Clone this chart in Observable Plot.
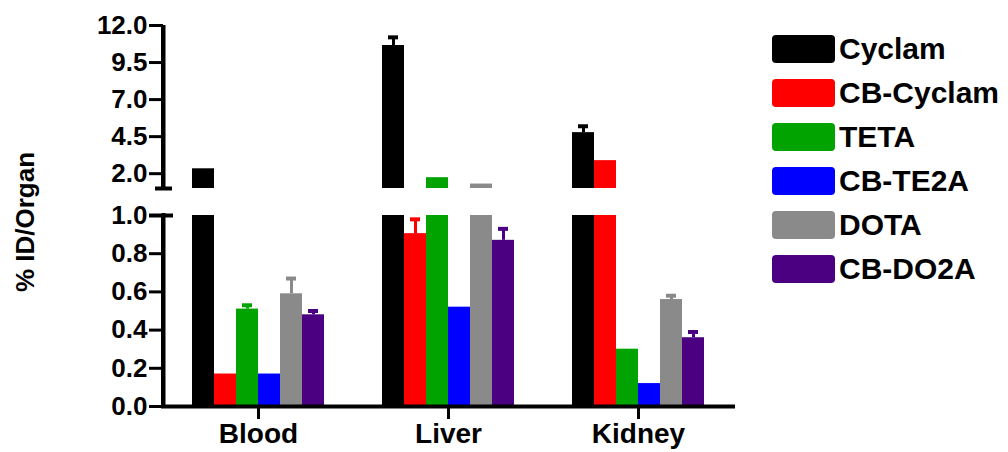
<!DOCTYPE html>
<html>
<head>
<meta charset="utf-8">
<script src="https://cdn.jsdelivr.net/npm/d3@7"></script>
<script src="https://cdn.jsdelivr.net/npm/@observablehq/plot@0.6"></script>
<style>
  html, body { margin: 0; padding: 0; background: #fff; }
  #wrap { position: relative; width: 1008px; height: 452px; overflow: hidden; background: #fff;
          font-family: "Liberation Sans", Arial, sans-serif; font-weight: bold; color: #000; }
  .layer { position: absolute; left: 0; }
  .top { top: 0; }
  .bot { top: 190px; }
  #ylabel { position: absolute; left: 25px; top: 222px; transform: translate(-50%, -50%) rotate(-90deg);
            font-size: 26px; white-space: nowrap; }
  #legend { position: absolute; left: 772px; top: 27px; }
  .row { display: flex; align-items: center; height: 44px; }
  .sw { width: 63px; height: 28px; border-radius: 4px; margin-right: 4px; }
  .lab { font-size: 30px; line-height: 30px; }
</style>
</head>
<body>
<div id="wrap">
  <div id="upperBars" class="layer top"></div>
  <div id="lowerBars" class="layer bot"></div>
  <div id="upperAxis" class="layer top"></div>
  <div id="lowerAxis" class="layer bot"></div>
  <div id="ylabel">% ID/Organ</div>
  <div id="legend"></div>
</div>
<script>
// ---- data ----
const organs = ["Blood", "Liver", "Kidney"];
const compounds = ["Cyclam", "CB-Cyclam", "TETA", "CB-TE2A", "DOTA", "CB-DO2A"];
const colors = ["#000000", "#ff0000", "#00a300", "#0000ff", "#8a8a8a", "#4b0082"];
const valuesBlood  = [2.33, 0.17, 0.51, 0.17, 0.59, 0.48];
const valuesLiver  = [10.65, 0.905, 1.73, 0.52, 1.3, 0.87];
const valuesKidney = [4.77, 2.88, 0.30, 0.12, 0.56, 0.36];
const errBlood  = [0, 0, 0.02, 0, 0.08, 0.02];
const errLiver  = [0.55, 0.075, 0, 0, 0, 0.06];
const errKidney = [0.43, 0, 0, 0, 0.02, 0.03];
const upperTicks = [2.0, 4.5, 7.0, 9.5, 12.0];
const lowerTicks = [0.0, 0.2, 0.4, 0.6, 0.8, 1.0];
const breakValue = 1.0;
const upperMax = 12.0;

// ---- build table ----
const valueSets = [valuesBlood, valuesLiver, valuesKidney];
const errSets = [errBlood, errLiver, errKidney];
const data = [];
organs.forEach((organ, i) => compounds.forEach((compound, j) => {
  data.push({organ, compound, value: valueSets[i][j], err: errSets[i][j]});
}));
const errData = data.filter(d => d.err > 0);
const upperErr = errData.filter(d => d.value > breakValue);
const lowerErr = errData.filter(d => d.value + d.err < breakValue);
const upperData = data.filter(d => d.value > breakValue);

const font = {fontFamily: "'Liberation Sans', Arial, sans-serif", fontWeight: "bold", fontSize: "26px", color: "#000", background: "transparent", overflow: "visible"};
const frameOpts = {width: 740, marginLeft: 163, marginRight: 7, style: font};
const upperFrame = {...frameOpts, height: 195, marginTop: 25, marginBottom: 7};
const lowerFrame = {...frameOpts, height: 262, marginTop: 25, marginBottom: 46};

const common = {
  fx: {domain: organs, padding: 0, label: null, axis: null},
  x: {domain: compounds, paddingInner: 0, paddingOuter: 1.22, axis: null},
  color: {domain: compounds, range: colors}
};

const errMarks = (rows) => [
  Plot.ruleX(rows, {fx: "organ", x: "compound", y1: "value", y2: d => d.value + d.err, stroke: "compound", strokeWidth: 3}),
  Plot.tickY(rows, {fx: "organ", x: "compound", y: d => d.value + d.err, stroke: "compound", strokeWidth: 4, inset: 6})
];

// vertical axis line drawn as a filled thin rectangle at x = 0 of the overlay scale
const axisBar = (y1, y2) => Plot.rect([0], {x1: 0, x2: 0, y1, y2, insetLeft: -2, insetRight: -2, fill: "#000"});

// bars (faceted by organ)
const upperBars = Plot.plot({
  ...upperFrame, ...common,
  y: {domain: [breakValue, upperMax], axis: null},
  marks: [
    Plot.barY(upperData, {fx: "organ", x: "compound", y1: breakValue, y2: "value", fill: "compound", clip: true}),
    ...errMarks(upperErr)
  ]
});

const lowerBars = Plot.plot({
  ...lowerFrame, ...common,
  y: {domain: [0, breakValue], axis: null},
  marks: [
    Plot.barY(data, {fx: "organ", x: "compound", y1: 0, y2: "value", fill: "compound", clip: true}),
    ...errMarks(lowerErr),
    Plot.axisFx({anchor: "bottom", tickSize: 13, tickPadding: 4, strokeWidth: 3, fontSize: 28, label: null})
  ]
});

// axis overlays (continuous y, with the axis lines)
const upperAxis = Plot.plot({
  ...upperFrame,
  x: {domain: [0, 1], axis: null},
  y: {domain: [breakValue, upperMax], label: null},
  marks: [
    axisBar(breakValue, upperMax),
    Plot.axisY({ticks: upperTicks, tickFormat: d3.format(".1f"), tickSize: 14, tickPadding: 2, strokeWidth: 3, label: null, fontSize: 26}),
    Plot.axisY({ticks: [breakValue], tickFormat: () => "", tickSize: 17, dx: 9, strokeWidth: 4, label: null}),
    Plot.ruleX([0], {stroke: "#000", strokeWidth: 4})
  ]
});

const lowerAxis = Plot.plot({
  ...lowerFrame,
  x: {domain: [0, 1], axis: null},
  y: {domain: [0, breakValue], label: null},
  marks: [
    axisBar(0, breakValue),
    Plot.axisY({ticks: lowerTicks, tickFormat: d3.format(".1f"), tickSize: 14, tickPadding: 2, strokeWidth: 3, label: null, fontSize: 26}),
    Plot.axisY({ticks: [breakValue], tickFormat: () => "", tickSize: 24, dx: 10, strokeWidth: 4, label: null}),
    Plot.ruleX([0], {stroke: "#000", strokeWidth: 4, strokeLinecap: "square"}),
    Plot.ruleY([0], {stroke: "#000", strokeWidth: 4, strokeLinecap: "square"})
  ]
});

document.getElementById("upperBars").appendChild(upperBars);
document.getElementById("lowerBars").appendChild(lowerBars);
document.getElementById("upperAxis").appendChild(upperAxis);
document.getElementById("lowerAxis").appendChild(lowerAxis);

// ---- legend ----
const legend = document.getElementById("legend");
compounds.forEach((c, i) => {
  const row = document.createElement("div");
  row.className = "row";
  const sw = document.createElement("div");
  sw.className = "sw";
  sw.style.background = colors[i];
  const lab = document.createElement("div");
  lab.className = "lab";
  lab.textContent = c;
  row.appendChild(sw);
  row.appendChild(lab);
  legend.appendChild(row);
});
</script>
</body>
</html>
